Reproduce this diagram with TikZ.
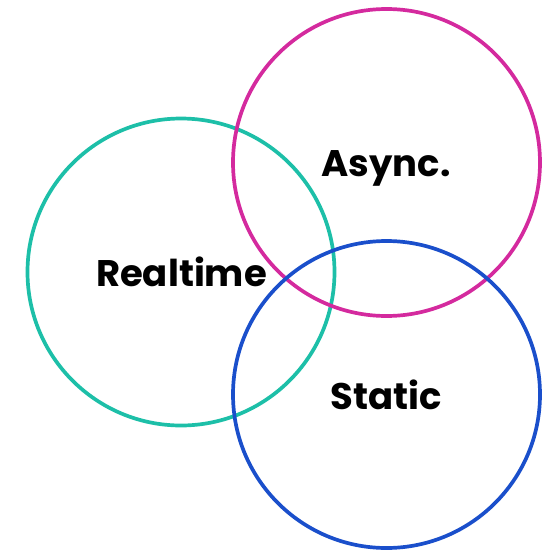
\documentclass[tikz,border=0pt]{standalone}
\usepackage{fontspec}
\setmainfont{Poppins}[BoldFont={* Bold}]
\definecolor{cteal}{HTML}{1DBFA8}
\definecolor{cmag}{HTML}{D42A9E}
\definecolor{cblue}{HTML}{1A4FCB}
\begin{document}
\begin{tikzpicture}[x=1pt,y=-1pt,
  ring/.style={draw,line width=3.7pt,circle,minimum size=307pt,inner sep=0pt},
  lbl/.style={font=\fontsize{37}{40}\selectfont\bfseries,inner sep=0pt,anchor=base}]
\useasboundingbox (0,0) rectangle (554,552);
\node[ring,cteal] (rt) at (181,272) {};
\node[ring,cmag] (as) at (386.5,162.5) {};
\node[ring,cblue] (st) at (386.5,394.5) {};
\node[lbl] (lrt) at (181.5,286) {Realtime};
\node[lbl] (las) at (386,176) {Async.};
\node[lbl] (lst) at (386.5,409) {Static};
\end{tikzpicture}
\end{document}
